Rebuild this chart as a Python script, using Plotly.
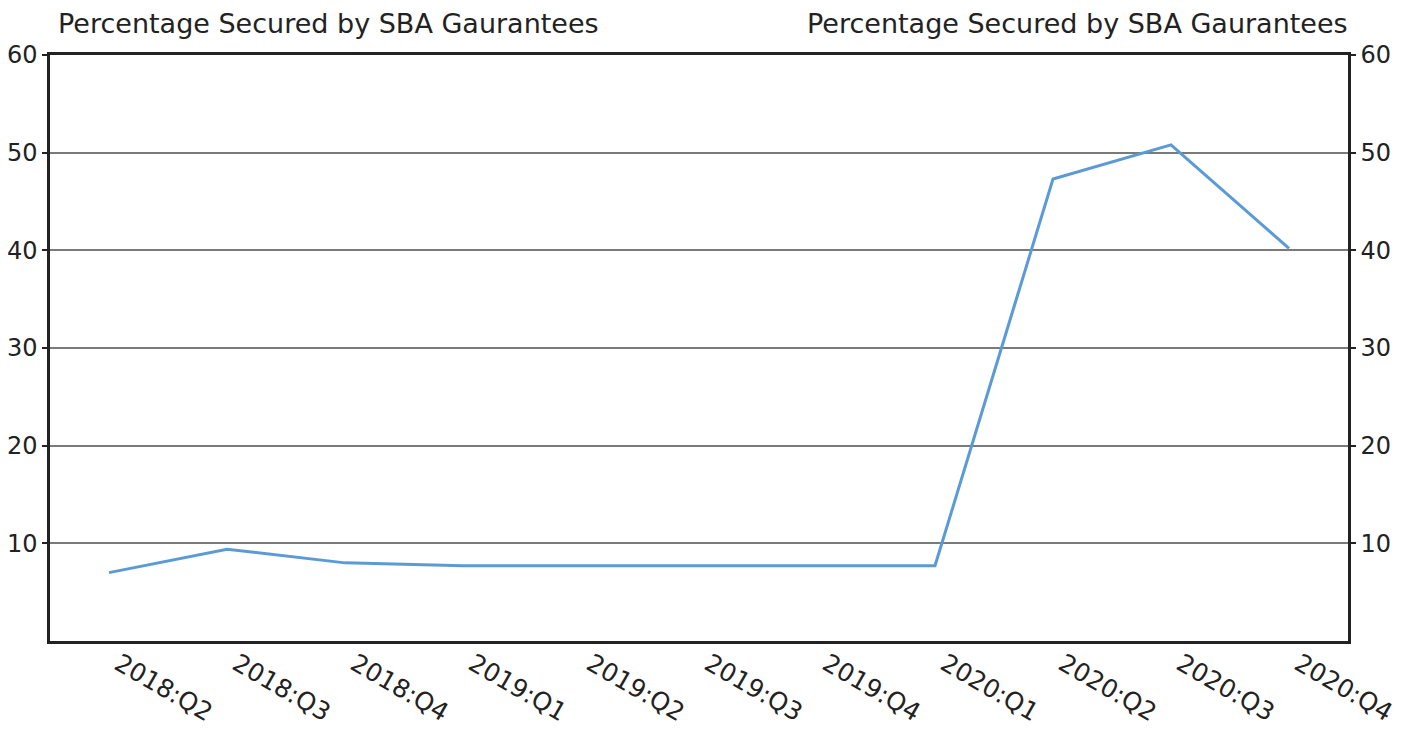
import plotly.graph_objects as go

categories = ["2018:Q2", "2018:Q3", "2018:Q4", "2019:Q1", "2019:Q2", "2019:Q3",
              "2019:Q4", "2020:Q1", "2020:Q2", "2020:Q3", "2020:Q4"]
values = [7.0, 9.4, 8.0, 7.7, 7.7, 7.7, 7.7, 7.7, 47.3, 50.8, 40.2]
y_ticks = [10, 20, 30, 40, 50, 60]
axis_title = "Percentage Secured by SBA Gaurantees"

FONT = "DejaVu Sans"
TXT = "#222222"
FS = 24

fig = go.Figure()
fig.add_trace(go.Scatter(x=categories, y=values, mode="lines",
                         line=dict(color="#5B9BD5", width=3), yaxis="y",
                         hoverinfo="x+y", showlegend=False))
fig.add_trace(go.Scatter(x=categories, y=values, mode="lines",
                         line=dict(color="rgba(0,0,0,0)", width=0), yaxis="y2",
                         hoverinfo="skip", showlegend=False))

yax = dict(range=[0, 60], tickvals=y_ticks, ticks="outside", ticklen=5,
           tickcolor="#222", tickwidth=1.5, automargin=False,
           showline=True, linecolor="#222", linewidth=2.5,
           tickfont=dict(family=FONT, size=FS, color=TXT), zeroline=False)

fig.update_layout(
    width=1408, height=723,
    margin=dict(l=42, r=68, t=47, b=90),
    paper_bgcolor="white", plot_bgcolor="white",
    xaxis=dict(type="category", tickangle=30, showgrid=False, ticks="",
               automargin=False, ticklabelshift=10, ticklabelstandoff=-4,
               showline=True, linecolor="#222", linewidth=2.5, mirror=True,
               tickfont=dict(family=FONT, size=25, color=TXT),
               range=[-0.5, len(categories) - 0.5]),
    yaxis=dict(**yax, side="left", showgrid=True, gridcolor="#7a7a7a", gridwidth=1.5),
    yaxis2=dict(**yax, side="right", overlaying="y", showgrid=False),
    annotations=[
        dict(text=axis_title, xref="paper", yref="paper", x=0, y=1, xshift=6, yshift=14,
             xanchor="left", yanchor="bottom", showarrow=False,
             font=dict(family=FONT, size=27, color=TXT)),
        dict(text=axis_title, xref="paper", yref="paper", x=1, y=1, xshift=2, yshift=14,
             xanchor="right", yanchor="bottom", showarrow=False,
             font=dict(family=FONT, size=27, color=TXT)),
    ],
)

fig.write_html("out.html")
